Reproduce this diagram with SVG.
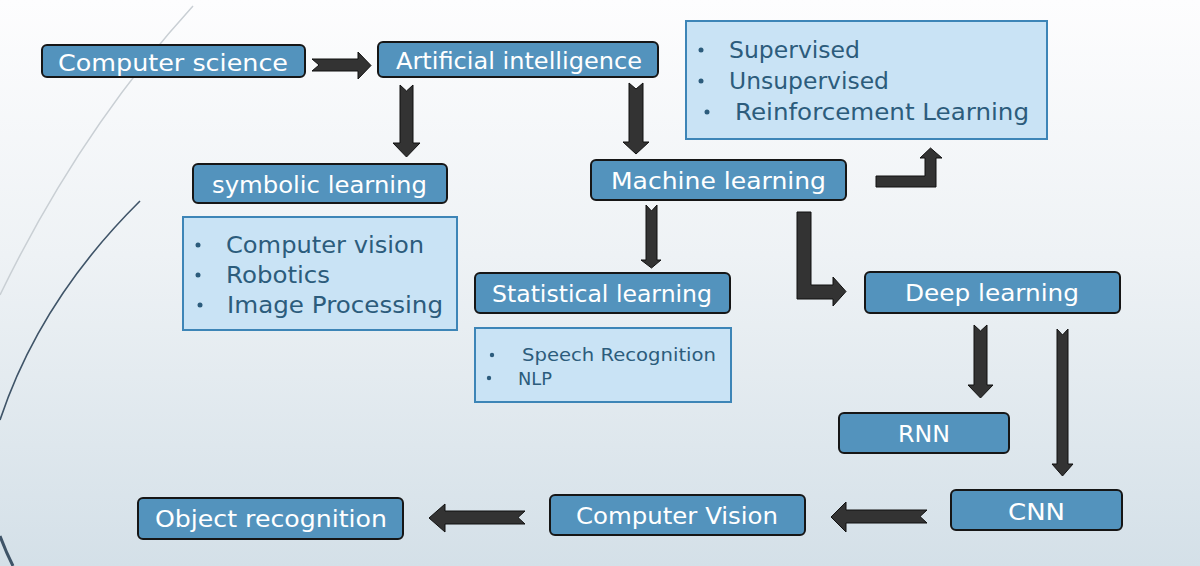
<svg xmlns="http://www.w3.org/2000/svg" width="1200" height="566" viewBox="0 0 1200 566">
<defs>
<linearGradient id="bg" x1="0" y1="0" x2="0" y2="1">
<stop offset="0" stop-color="#fdfdfe"/>
<stop offset="0.45" stop-color="#eef2f5"/>
<stop offset="1" stop-color="#d4e0e8"/>
</linearGradient>
<style>
.node rect{fill:#5393bd;stroke:#161616;stroke-width:2}
.node text{font-family:"DejaVu Sans","Liberation Sans",sans-serif;font-size:23px;fill:#ffffff}
.box rect{fill:#c9e3f5;stroke:#3d85b7;stroke-width:2}
.box text{font-family:"DejaVu Sans","Liberation Sans",sans-serif;font-size:23px;fill:#2c5c7c}
.box circle{fill:#2c5c7c}
.small text{font-size:18px}
.arrows polygon{fill:#333333;stroke:#111111;stroke-width:1;stroke-linejoin:miter}
.deco{fill:none}
</style>
</defs>
<rect x="0" y="0" width="1200" height="566" fill="url(#bg)"/>
<g id="decoration">
<path class="deco" d="M193,6 Q80,130 0,295" stroke="#c9cfd4" stroke-width="1.5"/>
<path class="deco" d="M140,201 Q40,300 0,420" stroke="#3f5468" stroke-width="1.6"/>
<path class="deco" d="M0,536 Q6,552 13,566" stroke="#3f5468" stroke-width="3"/>
</g>
<g id="connectors" class="arrows">
<polygon points="312,59 358,59 358,52 371,65.5 358,79 358,71 312,71 319,65"/>
<polygon points="400,85 406.5,91 413,85 413,143 420,143 406.5,157 393,143 400,143"/>
<polygon points="629,83 636,89 643,83 643,142 649,142 636,154 623,142 629,142"/>
<polygon points="646,205 651.5,211 657,205 657,260 661,260 651.5,268 641,260 646,260"/>
<polygon points="876,176 925,176 925,158 920,158 930.5,148 942,158 936,158 936,187 876,187"/>
<polygon points="797,212 811,212 811,285 833,285 833,277 846,291.5 833,306 833,299 797,299"/>
<polygon points="974,325 980.5,331 987,325 987,385 993,385 980.5,398 968,385 974,385"/>
<polygon points="1057,329 1062.5,335 1068,329 1068,464 1073,464 1062.5,476 1052,464 1057,464"/>
<polygon points="927,510 846,510 846,502 831,517 846,532 846,523 927,523 920,516.5"/>
<polygon points="525,511 445,511 445,504 429,518 445,532 445,524 525,524 518,517.5"/>
</g>
<g id="computer-science" class="node">
<rect x="42" y="45" width="263" height="32" rx="5"/>
<text x="58" y="71" font-size="25" textLength="230" lengthAdjust="spacingAndGlyphs">Computer science</text>
</g>
<g id="artificial-intelligence" class="node">
<rect x="378" y="42" width="280" height="35" rx="5"/>
<text x="396" y="69" textLength="246" lengthAdjust="spacingAndGlyphs">Artificial intelligence</text>
</g>
<g id="symbolic-learning" class="node">
<rect x="193" y="164" width="254" height="39" rx="5"/>
<text x="212" y="193" textLength="215" lengthAdjust="spacingAndGlyphs">symbolic learning</text>
</g>
<g id="machine-learning" class="node">
<rect x="591" y="160" width="255" height="40" rx="5"/>
<text x="611" y="189" textLength="215" lengthAdjust="spacingAndGlyphs">Machine learning</text>
</g>
<g id="statistical-learning" class="node">
<rect x="475" y="273" width="255" height="40" rx="5"/>
<text x="492" y="302" textLength="220" lengthAdjust="spacingAndGlyphs">Statistical learning</text>
</g>
<g id="deep-learning" class="node">
<rect x="865" y="272" width="255" height="41" rx="5"/>
<text x="905" y="301" textLength="174" lengthAdjust="spacingAndGlyphs">Deep learning</text>
</g>
<g id="rnn" class="node">
<rect x="839" y="413" width="170" height="40" rx="5"/>
<text x="898" y="442" textLength="52" lengthAdjust="spacingAndGlyphs">RNN</text>
</g>
<g id="cnn" class="node">
<rect x="951" y="490" width="171" height="40" rx="5"/>
<text x="1008" y="520" textLength="57" lengthAdjust="spacingAndGlyphs">CNN</text>
</g>
<g id="computer-vision" class="node">
<rect x="550" y="495" width="255" height="40" rx="5"/>
<text x="576" y="524" textLength="202" lengthAdjust="spacingAndGlyphs">Computer Vision</text>
</g>
<g id="object-recognition" class="node">
<rect x="138" y="498" width="265" height="41" rx="5"/>
<text x="155" y="527" textLength="232" lengthAdjust="spacingAndGlyphs">Object recognition</text>
</g>
<g id="ml-types" class="box">
<rect x="686" y="21" width="361" height="118"/>
<circle cx="701" cy="50" r="2.5"/>
<text x="729" y="58" textLength="131" lengthAdjust="spacingAndGlyphs">Supervised</text>
<circle cx="701" cy="81" r="2.5"/>
<text x="729" y="89" textLength="160" lengthAdjust="spacingAndGlyphs">Unsupervised</text>
<circle cx="707" cy="112" r="2.5"/>
<text x="735" y="120" textLength="294" lengthAdjust="spacingAndGlyphs">Reinforcement Learning</text>
</g>
<g id="symbolic-apps" class="box">
<rect x="183" y="217" width="274" height="113"/>
<circle cx="198" cy="245" r="2.5"/>
<text x="226" y="253" textLength="198" lengthAdjust="spacingAndGlyphs">Computer vision</text>
<circle cx="198" cy="275" r="2.5"/>
<text x="226" y="283" textLength="104" lengthAdjust="spacingAndGlyphs">Robotics</text>
<circle cx="200" cy="305" r="2.5"/>
<text x="227" y="313" textLength="216" lengthAdjust="spacingAndGlyphs">Image Processing</text>
</g>
<g id="statistical-apps" class="box small">
<rect x="475" y="328" width="256" height="74"/>
<circle cx="492" cy="355" r="2.2"/>
<text x="522" y="361" textLength="194" lengthAdjust="spacingAndGlyphs">Speech Recognition</text>
<circle cx="489" cy="378" r="2.2"/>
<text x="518" y="385" textLength="34" lengthAdjust="spacingAndGlyphs">NLP</text>
</g>
</svg>
